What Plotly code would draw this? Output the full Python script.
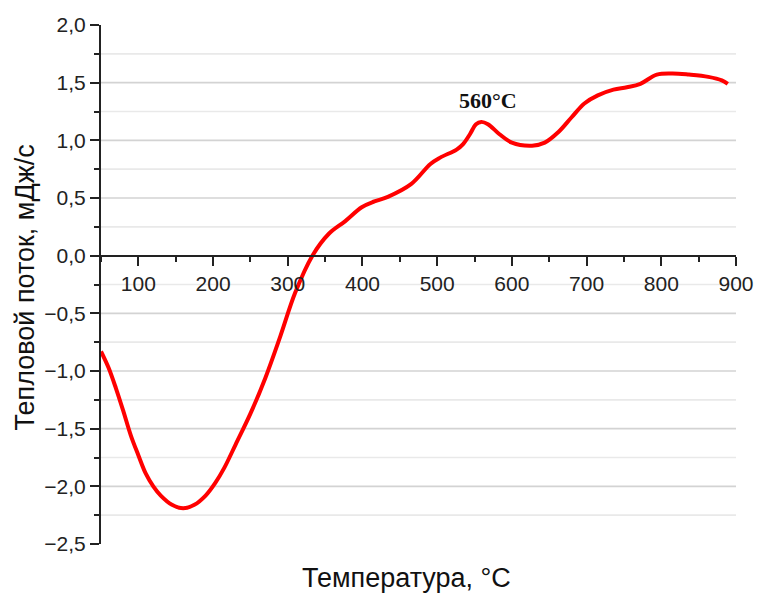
import plotly.graph_objects as go

# DSC heat-flow curve
temperature = [50, 60, 70, 80, 90, 100, 110, 120, 130, 145, 160, 175, 190, 203,
               215, 230, 250, 270, 290, 310, 333, 355, 377, 399, 416, 434, 465,
               491, 504, 526, 535, 544, 552, 559, 568, 583, 600, 627, 644, 662,
               680, 697, 715, 736, 754, 772, 794, 815, 837, 863, 881, 889]
heat_flow = [-0.83, -0.97, -1.15, -1.35, -1.56, -1.73, -1.89, -2.00, -2.08, -2.16,
             -2.19, -2.16, -2.08, -1.97, -1.84, -1.64, -1.37, -1.06, -0.70, -0.32,
             0.0, 0.19, 0.30, 0.42, 0.47, 0.51, 0.62, 0.795, 0.85, 0.92, 0.97,
             1.055, 1.14, 1.16, 1.14, 1.055, 0.98, 0.954, 0.98, 1.07, 1.20, 1.32,
             1.39, 1.44, 1.46, 1.49, 1.57, 1.58, 1.57, 1.55, 1.52, 1.49]

x_ticks = [100, 200, 300, 400, 500, 600, 700, 800, 900]
y_ticks = [-2.5, -2.0, -1.5, -1.0, -0.5, 0.0, 0.5, 1.0, 1.5, 2.0]
grid_levels = [-2.25, -2.0, -1.75, -1.5, -1.25, -1.0, -0.75, -0.5, -0.25,
               0.25, 0.5, 0.75, 1.0, 1.25, 1.5, 1.75]

peak_label = "560°C"
peak_x, peak_y = 568, 1.345

x_title = "Температура, °C"
y_title = "Тепловой поток, мДж/с"

y_min, y_max = -2.5, 2.0

# frame geometry (pixels)
W, H = 766, 597
ML, MR, MT, MB = 101, 18, 25, 53
plot_w = W - ML - MR
plot_h = H - MT - MB


def px_to_paper(px, py):
    return (px - ML) / plot_w, (H - MB - py) / plot_h


fig = go.Figure()
fig.add_trace(go.Scatter(
    x=temperature, y=heat_flow, mode="lines",
    line=dict(color="#ff0000", width=4, shape="spline", smoothing=1.0),
    showlegend=False, hoverinfo="skip",
))

# horizontal grid: darker at 0.5 steps, lighter in between
shapes = []
for g in grid_levels:
    major = abs(g * 2 - round(g * 2)) < 1e-9
    shapes.append(dict(
        type="line", xref="paper", yref="y", x0=0, x1=1, y0=g, y1=g,
        line=dict(color="#d3d3d3" if major else "#e9e9e9", width=1.6),
        layer="below",
    ))

tick_font = dict(family="Liberation Sans, Arial, sans-serif", size=21, color="#222222")
title_font = dict(family="Liberation Sans, Arial, sans-serif", size=27, color="#111111")

xt_x, xt_y = px_to_paper(412, 578)
yt_x, yt_y = px_to_paper(24, 287)

fig.update_layout(
    width=W, height=H,
    margin=dict(l=ML, r=MR, t=MT, b=MB),
    paper_bgcolor="white", plot_bgcolor="white",
    separators=", ",
    shapes=shapes,
    xaxis=dict(
        range=[50, 900], tickvals=x_ticks,
        anchor="free", position=(0 - y_min) / (y_max - y_min),
        showline=True, linecolor="#222222", linewidth=2,
        ticks="outside", ticklen=9, tickwidth=2, tickcolor="#222222",
        minor=dict(dtick=50, tick0=50, ticks="outside", ticklen=5,
                   tickwidth=2, tickcolor="#222222", showgrid=False),
        showgrid=False, zeroline=False,
        tickfont=tick_font,
    ),
    yaxis=dict(
        range=[y_min, y_max], tickvals=y_ticks, tickformat=".1f",
        showline=True, linecolor="#222222", linewidth=2,
        ticks="outside", ticklen=9, tickwidth=2, tickcolor="#222222",
        minor=dict(dtick=0.25, tick0=0, ticks="outside", ticklen=5,
                   tickwidth=2, tickcolor="#222222", showgrid=False),
        showgrid=False, zeroline=False,
        tickfont=tick_font,
    ),
    annotations=[
        dict(x=peak_x, y=peak_y, xref="x", yref="y", text="<b>" + peak_label + "</b>",
             showarrow=False, xanchor="center", yanchor="middle",
             font=dict(family="Liberation Serif, Times New Roman, serif", size=22, color="#111111")),
        dict(x=xt_x, y=xt_y, xref="paper", yref="paper", text=x_title, showarrow=False,
             xanchor="center", yanchor="middle", font=title_font),
        dict(x=yt_x, y=yt_y, xref="paper", yref="paper", text=y_title, showarrow=False,
             textangle=-90, xanchor="center", yanchor="middle", font=title_font),
    ],
)

fig.write_html("out.html")
